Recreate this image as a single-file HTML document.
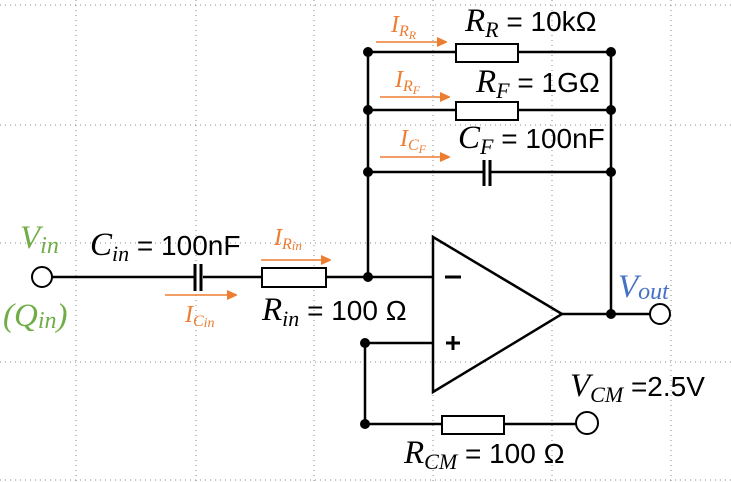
<!DOCTYPE html>
<html><head><meta charset="utf-8"><style>
html,body{margin:0;padding:0;background:#fff;}
svg{display:block}
.m{font-family:"Liberation Serif",serif;font-style:italic}
.s{font-family:"Liberation Sans",sans-serif}
</style></head><body>
<svg width="731" height="482" viewBox="0 0 731 482" xmlns="http://www.w3.org/2000/svg">
<defs><marker id="a" markerWidth="10" markerHeight="10" refX="9" refY="5" orient="auto" markerUnits="userSpaceOnUse"><path d="M0,0 L11,5 L0,10 z" fill="#ED7D31"/></marker></defs>
<g stroke="#888" stroke-width="1" stroke-dasharray="1 4">
<line x1="0" y1="5" x2="731" y2="5"/><line x1="0" y1="125" x2="731" y2="125"/><line x1="0" y1="243" x2="731" y2="243"/><line x1="0" y1="362" x2="731" y2="362"/><line x1="0" y1="480" x2="731" y2="480"/>
<line x1="76" y1="0" x2="76" y2="482"/><line x1="196" y1="0" x2="196" y2="482"/><line x1="314" y1="0" x2="314" y2="482"/><line x1="433" y1="0" x2="433" y2="482"/><line x1="552" y1="0" x2="552" y2="482"/><line x1="671" y1="0" x2="671" y2="482"/>
</g>
<g stroke="#000" stroke-width="2.5" fill="none">
<line x1="368" y1="52" x2="368" y2="277"/><line x1="611" y1="52" x2="611" y2="314"/>
<line x1="368" y1="52" x2="456" y2="52"/><line x1="518" y1="52" x2="611" y2="52"/>
<line x1="368" y1="110" x2="456" y2="110"/><line x1="518" y1="110" x2="611" y2="110"/>
<line x1="368" y1="172" x2="483" y2="172"/><line x1="491" y1="172" x2="611" y2="172"/>
<line x1="52" y1="277" x2="195" y2="277"/><line x1="203" y1="277" x2="262" y2="277"/><line x1="326" y1="277" x2="433" y2="277"/>
<line x1="365" y1="343" x2="433" y2="343"/><line x1="365" y1="343" x2="365" y2="424"/>
<line x1="365" y1="424" x2="442" y2="424"/><line x1="504" y1="424" x2="576" y2="424"/>
<line x1="562" y1="314" x2="650" y2="314"/>
<polygon points="433,237 433,392 562,314"/>
</g>
<g stroke="#000" stroke-width="2" fill="#fff">
<rect x="456" y="44" width="62" height="18"/><rect x="456" y="102" width="62" height="18"/>
<rect x="262" y="268" width="64" height="19"/><rect x="442" y="416" width="62" height="18"/>
<circle cx="42" cy="277" r="10"/><circle cx="660" cy="314" r="10"/><circle cx="587" cy="423" r="11"/>
</g>
<g stroke="#000" stroke-width="3">
<line x1="484" y1="160" x2="484" y2="186"/><line x1="490" y1="160" x2="490" y2="186"/>
<line x1="195" y1="264" x2="195" y2="291"/><line x1="201" y1="264" x2="201" y2="291"/>
<line x1="445" y1="277" x2="461" y2="277"/><line x1="446" y1="343" x2="460" y2="343"/><line x1="453" y1="336" x2="453" y2="350"/>
</g>
<g fill="#000"><circle cx="368" cy="52" r="5"/><circle cx="611" cy="52" r="5"/><circle cx="368" cy="110" r="5"/><circle cx="611" cy="110" r="5"/><circle cx="368" cy="172" r="5"/><circle cx="611" cy="172" r="5"/><circle cx="368" cy="277" r="5"/><circle cx="611" cy="314" r="5"/><circle cx="365" cy="343" r="5"/><circle cx="365" cy="424" r="5"/></g>
<g stroke="#ED7D31" stroke-width="1.5" marker-end="url(#a)">
<line x1="376" y1="42" x2="446" y2="42"/><line x1="380" y1="97" x2="449" y2="97"/><line x1="380" y1="157" x2="449" y2="157"/>
<line x1="261" y1="260" x2="330" y2="260"/><line x1="165" y1="295" x2="236" y2="295"/>
</g>
<g fill="#ED7D31" class="m">
<text x="391" y="32" font-size="24">I<tspan font-size="16" dy="4">R</tspan><tspan font-size="12" dy="3">R</tspan></text>
<text x="395" y="87" font-size="24">I<tspan font-size="16" dy="4">R</tspan><tspan font-size="12" dy="3">F</tspan></text>
<text x="400" y="146" font-size="24">I<tspan font-size="16" dy="4">C</tspan><tspan font-size="12" dy="3">F</tspan></text>
<text x="274" y="245" font-size="24">I<tspan font-size="16" dy="4">R</tspan><tspan font-size="13" dy="1">in</tspan></text>
<text x="185" y="322" font-size="24">I<tspan font-size="16" dy="4">C</tspan><tspan font-size="14" dy="1">in</tspan></text>
</g>
<g fill="#000" font-size="28">
<text x="465" y="31"><tspan class="m" font-size="33">R</tspan><tspan class="m" font-size="22" dy="6">R</tspan><tspan class="s" dy="-6"> = 10kΩ</tspan></text>
<text x="476" y="92"><tspan class="m" font-size="33">R</tspan><tspan class="m" font-size="22" dy="6">F</tspan><tspan class="s" dy="-6"> = 1GΩ</tspan></text>
<text x="458" y="148"><tspan class="m" font-size="33">C</tspan><tspan class="m" font-size="22" dy="6">F</tspan><tspan class="s" dy="-6"> = 100nF</tspan></text>
<text x="90" y="255"><tspan class="m" font-size="33">C</tspan><tspan class="m" font-size="22" dy="6">in</tspan><tspan class="s" dy="-6"> = 100nF</tspan></text>
<text x="262" y="320"><tspan class="m" font-size="33">R</tspan><tspan class="m" font-size="22" dy="6">in</tspan><tspan class="s" dy="-6"> = 100 Ω</tspan></text>
<text x="404" y="463"><tspan class="m" font-size="33">R</tspan><tspan class="m" font-size="22" dy="6">CM</tspan><tspan class="s" dy="-6"> = 100 Ω</tspan></text>
<text x="570" y="396"><tspan class="m" font-size="33">V</tspan><tspan class="m" font-size="22" dy="6">CM</tspan><tspan class="s" dy="-6"> =2.5V</tspan></text>
</g>
<text x="618" y="297" fill="#4472C4" class="m" font-size="33">V<tspan font-size="24" dy="2">out</tspan></text>
<text x="20" y="248" fill="#70AD47" class="m" font-size="33">V<tspan font-size="24" dy="5">in</tspan></text>
<text x="3" y="326" fill="#70AD47" class="m" font-size="33">(Q<tspan font-size="24" dy="2">in</tspan><tspan dy="-2">)</tspan></text>
</svg>
</body></html>
